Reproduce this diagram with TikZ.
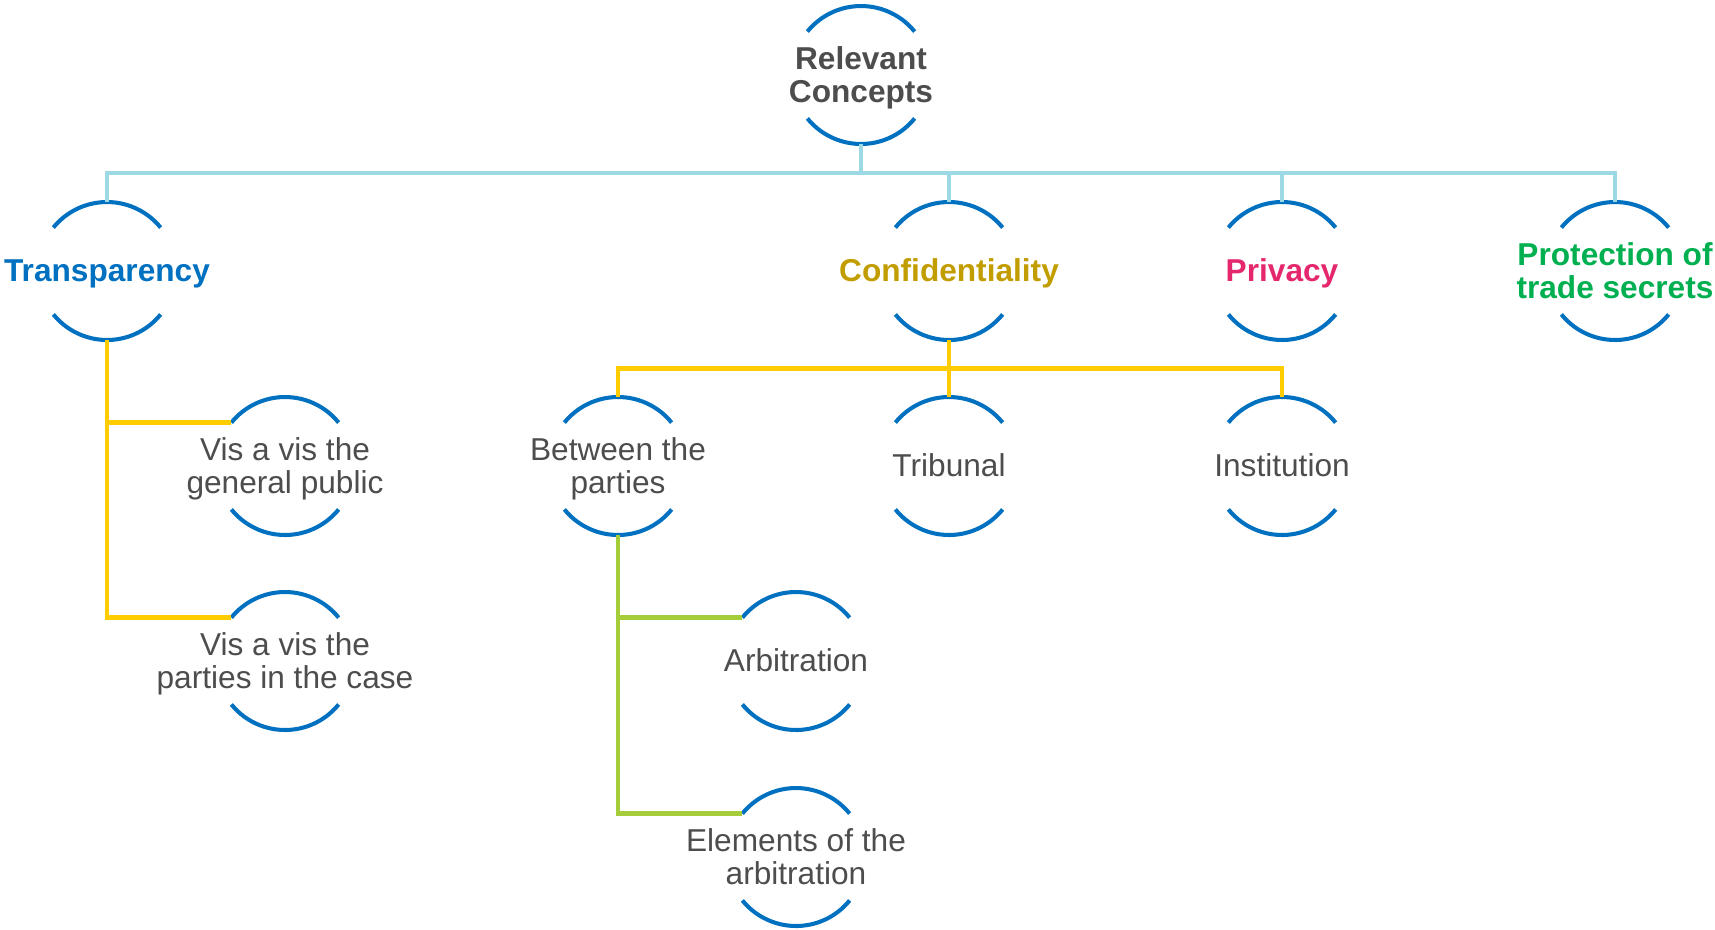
\documentclass[tikz,border=0pt]{standalone}
\usepackage{fontspec}
\setmainfont{Liberation Sans}
\usetikzlibrary{calc}
\definecolor{ringblue}{HTML}{0070C0}
\definecolor{buscyan}{HTML}{9DD8E5}
\definecolor{busyellow}{HTML}{FFCC00}
\definecolor{busgreen}{HTML}{A5CD39}
\definecolor{textgray}{HTML}{4D4D4D}
\definecolor{confgold}{HTML}{C29D00}
\definecolor{privpink}{HTML}{E5286E}
\definecolor{tradegreen}{HTML}{00B050}

\begin{document}
\begin{tikzpicture}[
    ring/.style={circle, minimum size=2.76cm, inner sep=0pt, outer sep=0pt},
    txt/.style={align=center, text=textgray, font=\fontsize{18}{18.8}\selectfont,
        execute at end node={\vphantom{Tlp}}, yshift=-0.05cm},
    head/.style={txt, font=\fontsize{18}{18.8}\selectfont\bfseries},
    ringarc/.style={ringblue, line width=2.3pt},
    bus/.style={line width=2.8pt}]
    \useasboundingbox (0,0) rectangle (34.3,-18.58);

    \node[ring, label={[head]center:Relevant\\Concepts}] (root) at (17.22,-1.5) {};

    \node[ring, label={[head, text=ringblue]center:Transparency}] (transp) at (2.14,-5.42) {};
    \node[ring, label={[head, text=confgold]center:Confidentiality}] (conf) at (18.98,-5.42) {};
    \node[ring, label={[head, text=privpink]center:Privacy}] (priv) at (25.64,-5.42) {};
    \node[ring, label={[head, text=tradegreen]center:Protection of\\trade secrets}] (trade) at (32.30,-5.42) {};

    \node[ring, label={[txt]center:Vis a vis the\\general public}] (public) at (5.70,-9.32) {};
    \node[ring, label={[txt]center:Vis a vis the\\parties in the case}] (cases) at (5.70,-13.22) {};

    \node[ring, label={[txt]center:Between the\\parties}] (parties) at (12.36,-9.32) {};
    \node[ring, label={[txt]center:Tribunal}] (trib) at (18.98,-9.32) {};
    \node[ring, label={[txt]center:Institution}] (inst) at (25.64,-9.32) {};

    \node[ring, label={[txt]center:Arbitration}] (arb) at (15.92,-13.22) {};
    \node[ring, label={[txt]center:Elements of the\\arbitration}] (elem) at (15.92,-17.14) {};

    \foreach \n in {root,transp,conf,priv,trade,public,cases,parties,trib,inst,arb,elem}{
        \draw[ringarc] (\n.39) arc[start angle=39, end angle=141, radius=1.38cm];
        \draw[ringarc] (\n.219) arc[start angle=219, end angle=321, radius=1.38cm];
    }

    \coordinate (topbus) at ($(root.south)!.5!(root.south |- conf.north)$);
    \draw[bus, buscyan] (root.south) -- (topbus);
    \draw[bus, buscyan] (transp.north) -- (transp.north |- topbus) -- (trade.north |- topbus) -- (trade.north);
    \draw[bus, buscyan] (conf.north) -- (conf.north |- topbus);
    \draw[bus, buscyan] (priv.north) -- (priv.north |- topbus);

    \coordinate (confbus) at ($(conf.south)!.5!(conf.south |- trib.north)$);
    \draw[bus, busyellow] (conf.south) -- (trib.north);
    \draw[bus, busyellow] (parties.north) -- (parties.north |- confbus) -- (inst.north |- confbus) -- (inst.north);

    \draw[bus, busyellow] (transp.south) |- (cases.141);
    \draw[bus, busyellow] (transp.south |- public.141) -- (public.141);

    \draw[bus, busgreen] (parties.south) |- (elem.141);
    \draw[bus, busgreen] (parties.south |- arb.141) -- (arb.141);
\end{tikzpicture}
\end{document}
